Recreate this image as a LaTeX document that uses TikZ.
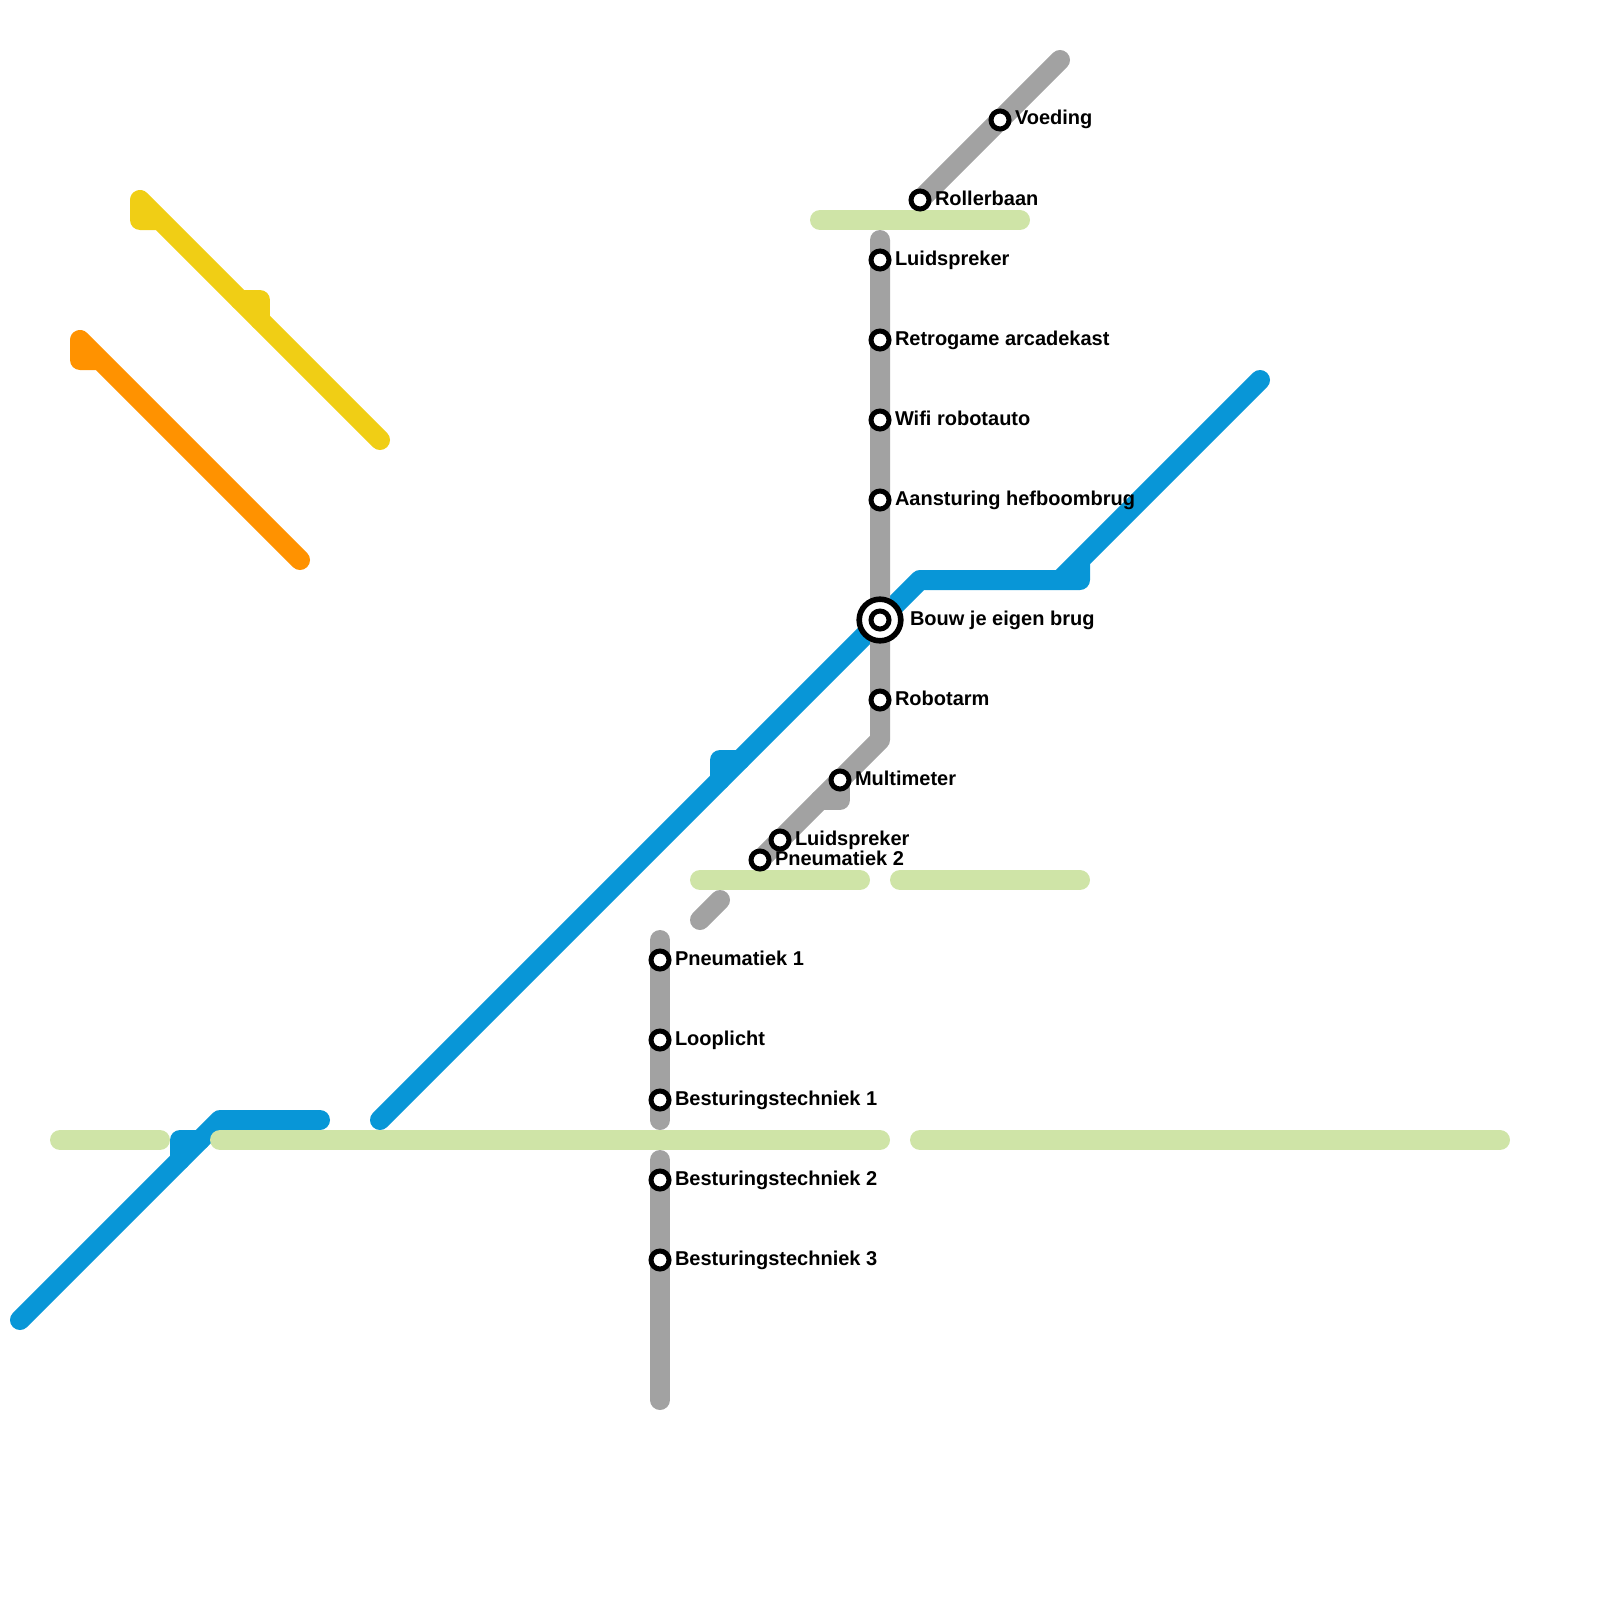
\documentclass[tikz,border=0pt]{standalone}
\usepackage{fontspec}
\setmainfont{Liberation Sans}
\definecolor{lineblue}{HTML}{0896D7}
\definecolor{linegreen}{HTML}{CFE4A7}
\definecolor{linegray}{HTML}{A2A2A2}
\definecolor{lineyellow}{HTML}{F0CE15}
\definecolor{lineorange}{HTML}{FF9200}
\tikzset{
  railline/.style={line width=10pt,line cap=round,line join=round},
  halt/.style={circle,draw=black,fill=white,line width=2.5pt,minimum size=9pt,inner sep=0pt,outer sep=0pt},
  hub/.style={circle,draw=black,fill=white,line width=2.8pt,minimum size=20.8pt,inner sep=0pt,outer sep=0pt},
  haltlabel/.style={anchor=base west,inner sep=0pt,outer sep=0pt,font=\fontsize{10}{12}\selectfont\bfseries,text=black}
}
\begin{document}
\begin{tikzpicture}[x=0.5pt,y=-0.5pt]
  \useasboundingbox (0,0) rectangle (1600,1600);
  % lines
  \draw[railline,lineyellow] (160,220) -- (140,220) -- (140,200) -- (380,440);
  \draw[railline,lineyellow] (240,300) -- (260,300) -- (260,320);
  \draw[railline,lineorange] (100,360) -- (80,360) -- (80,340) -- (300,560);
  \draw[railline,lineblue] (20,1320) -- (220,1120) -- (320,1120);
  \draw[railline,lineblue] (200,1140) -- (180,1140) -- (180,1160);
  \draw[railline,lineblue] (380,1120) -- (920,580) -- (1080,580) -- (1080,560) -- (1060,580) -- (1260,380);
  \draw[railline,lineblue] (740,760) -- (720,760) -- (720,780);
  \foreach \xa/\xb/\y in {820/1020/220,700/860/880,900/1080/880,60/160/1140,220/880/1140,920/1500/1140} {
    \draw[railline,linegreen] (\xa,\y) -- (\xb,\y);
  }
  \draw[railline,linegray] (920,200) -- (1060,60);
  \draw[railline,linegray] (880,240) -- (880,740) -- (760,860);
  \draw[railline,linegray] (840,780) -- (840,800) -- (820,800);
  \draw[railline,linegray] (700,920) -- (720,900);
  \draw[railline,linegray] (660,940) -- (660,1120);
  \draw[railline,linegray] (660,1160) -- (660,1400);
  % stations
  \foreach \name/\x/\y/\txt in {voeding/1000/120/Voeding,rollerbaan/920/200/Rollerbaan,luidsprekera/880/260/Luidspreker,retrogame/880/340/Retrogame arcadekast,wifi/880/420/Wifi robotauto,hefboom/880/500/Aansturing hefboombrug,robotarm/880/700/Robotarm,multimeter/840/780/Multimeter,luidsprekerb/780/840/Luidspreker,pneumatiekb/760/860/Pneumatiek 2,pneumatieka/660/960/Pneumatiek 1,looplicht/660/1040/Looplicht,besturinga/660/1100/Besturingstechniek 1,besturingb/660/1180/Besturingstechniek 2,besturingc/660/1260/Besturingstechniek 3} {
    \node[halt] (st\name) at (\x,\y) {};
    \node[haltlabel] (lb\name) at (\x+15,\y+5) {\txt};
  }
  \node[hub] (sthubouter) at (880,620) {};
  \node[halt] (sthub) at (880,620) {};
  \node[haltlabel] (lbhub) at (910,625) {Bouw je eigen brug};
\end{tikzpicture}
\end{document}
